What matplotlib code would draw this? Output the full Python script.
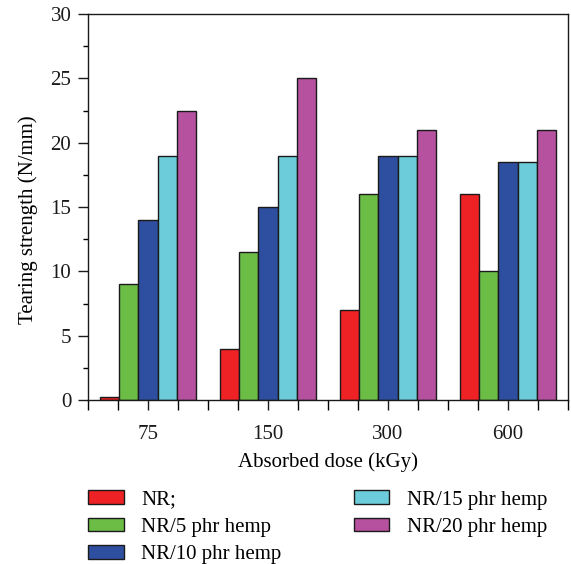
import matplotlib
matplotlib.use("Agg")
import matplotlib.pyplot as plt
import numpy as np
from matplotlib.ticker import MultipleLocator, FixedLocator

doses = ["75", "150", "300", "600"]
series_names = ["NR;", "NR/5 phr hemp", "NR/10 phr hemp", "NR/15 phr hemp", "NR/20 phr hemp"]
nr = [0.2, 4, 7, 16]
nr5 = [9, 11.5, 16, 10]
nr10 = [14, 15, 19, 18.5]
nr15 = [19, 19, 19, 18.5]
nr20 = [22.5, 25, 21, 21]
colors = ["#EE2224", "#6BBD45", "#2E4F9F", "#6DCCD9", "#B5519E"]

plt.rcParams['font.family'] = ['Liberation Serif', 'DejaVu Serif']

fig = plt.figure(figsize=(5.71, 5.64), dpi=100)
ax = fig.add_axes([88/571, 1 - 400/564, 480/571, 386/564])

x = np.arange(len(doses))
w = 0.16
allv = [nr, nr5, nr10, nr15, nr20]
for i, (vals, c, name) in enumerate(zip(allv, colors, series_names)):
    ax.bar(x + (i - 2) * w, vals, width=w, color=c, edgecolor="#1a1a1a", linewidth=1.0, label=name)

ax.set_xlim(-0.5, 3.5)
ax.set_ylim(0, 30)
ax.set_xticks(x)
ax.set_xticklabels(doses)
ax.xaxis.set_minor_locator(FixedLocator([v for v in np.arange(-0.5, 3.51, 0.25) if abs(v - round(v)) > 1e-6]))
ax.yaxis.set_major_locator(MultipleLocator(5))
ax.yaxis.set_minor_locator(MultipleLocator(2.5))
ax.tick_params(axis='both', which='major', direction='out', length=7, width=1, labelsize=15, colors='#1a1a1a')
ax.tick_params(axis='x', which='minor', direction='out', length=7, width=1)
ax.tick_params(axis='y', which='minor', direction='out', length=3.5, width=1)
ax.tick_params(axis='x', which='major', pad=11)
ax.tick_params(axis='y', which='major', pad=5)
for s in ax.spines.values():
    s.set_linewidth(1.0)
    s.set_color('#1a1a1a')

ax.set_xlabel("Absorbed dose (kGy)", fontsize=15, labelpad=6)
ax.set_ylabel("Tearing strength (N/mm)", fontsize=15)
ax.yaxis.set_label_coords(-0.104, 0.466)

handles, labels = ax.get_legend_handles_labels()
fig.legend(handles, labels, loc='upper left', bbox_to_anchor=(80/571, 1 - 482/564), ncol=2,
           frameon=False, fontsize=15, handlelength=1.7, handleheight=0.65,
           labelspacing=0.38, columnspacing=3.45, handletextpad=0.85, borderaxespad=0)

fig.savefig("out.png", dpi=100)
